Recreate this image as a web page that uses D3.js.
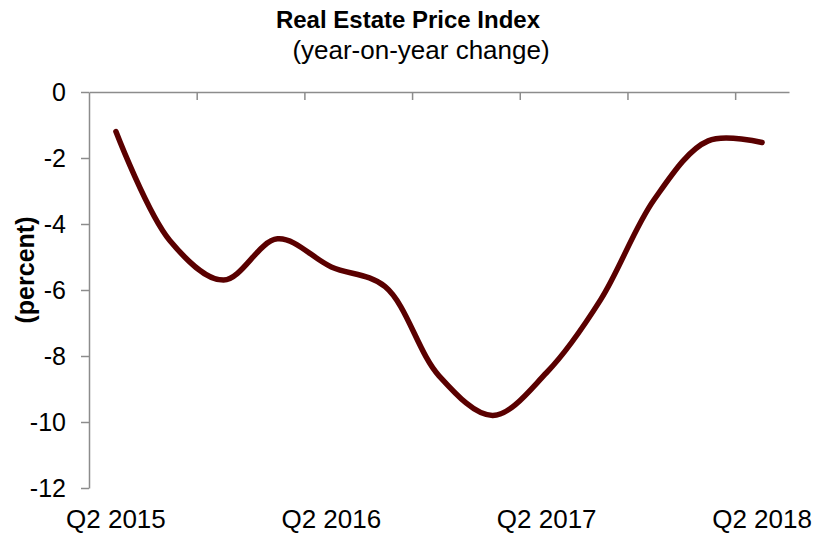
<!DOCTYPE html>
<html>
<head>
<meta charset="utf-8">
<script src="https://cdn.jsdelivr.net/npm/d3@7"></script>
<style>
  html, body { margin: 0; padding: 0; background: #ffffff; }
  svg { display: block; }
  text { font-family: "Liberation Sans", Arial, sans-serif; fill: #000; }
</style>
</head>
<body>
<svg id="chart" width="821" height="533"></svg>
<script>
// ---- data ----
const categories = ["Q2 2015","Q3 2015","Q4 2015","Q1 2016","Q2 2016","Q3 2016","Q4 2016",
                    "Q1 2017","Q2 2017","Q3 2017","Q4 2017","Q1 2018","Q2 2018"];
const values = [-1.2, -4.5, -5.7, -4.45, -5.3, -5.9, -8.6, -9.8, -8.5, -6.3, -3.25, -1.48, -1.53];
const xTickLabels = ["Q2 2015","Q2 2016","Q2 2017","Q2 2018"];
const yTicks = [0, -2, -4, -6, -8, -10, -12];
const titleText = "Real Estate Price Index";
const subtitleText = "(year-on-year change)";
const yAxisTitle = "(percent)";

// ---- layout ----
const svg = d3.select("#chart");
const plotLeft = 89, plotRight = 789, plotTop = 92, plotBottom = 488;
const axisColor = "#8c8c8c";
const lineColor = "#5a0000";

const x = d3.scaleBand().domain(categories).range([plotLeft, plotRight]).padding(0);
const xb = d3.scaleLinear().domain([0, categories.length]).range([plotLeft, plotRight]);
const y = d3.scaleLinear().domain([-12, 0]).range([plotBottom, plotTop]);

// title
svg.append("text").attr("x", 408).attr("y", 28).attr("text-anchor", "middle")
  .style("font-size", "24px").style("font-weight", "bold").text(titleText);
svg.append("text").attr("x", 421).attr("y", 59).attr("text-anchor", "middle")
  .style("font-size", "26px").text(subtitleText);

// y axis
const yAxis = svg.append("g").attr("transform", `translate(${plotLeft},0)`)
  .call(d3.axisLeft(y).tickValues(yTicks).tickSizeInner(8).tickSizeOuter(0).tickPadding(15)
    .tickFormat(d3.format("d")));
yAxis.select(".domain").attr("stroke", axisColor).attr("stroke-width", 1.5);
yAxis.selectAll(".tick line").attr("stroke", axisColor).attr("stroke-width", 1.5);
yAxis.selectAll(".tick text").style("font-size", "25px").style("font-family", "Liberation Sans, Arial, sans-serif")
  .text(d => d === 0 ? "0" : "-" + Math.abs(d));

// x axis along y = 0 (top), ticks every two quarters, pointing down
const xAxis = svg.append("g").attr("transform", `translate(0,${y(0)})`)
  .call(d3.axisBottom(xb).tickValues(d3.range(2, categories.length, 2)).tickSizeInner(8).tickSizeOuter(0)
    .tickFormat(""));
xAxis.select(".domain").attr("stroke", axisColor).attr("stroke-width", 1.5);
xAxis.selectAll(".tick line").attr("stroke", axisColor).attr("stroke-width", 1.5);

// x category labels at the bottom
svg.append("g").selectAll("text").data(xTickLabels).join("text")
  .attr("x", d => x(d) + x.bandwidth() / 2)
  .attr("y", 528)
  .attr("text-anchor", "middle")
  .style("font-size", "26px")
  .text(d => d);

// y axis title
svg.append("text")
  .attr("transform", "translate(34,270) rotate(-90)")
  .attr("text-anchor", "middle")
  .style("font-size", "25px").style("font-weight", "bold")
  .text(yAxisTitle);

// line
const line = d3.line()
  .x((d, i) => x(categories[i]) + x.bandwidth() / 2)
  .y(d => y(d))
  .curve(d3.curveCatmullRom.alpha(0.5));
svg.append("path").datum(values)
  .attr("d", line)
  .attr("fill", "none")
  .attr("stroke", lineColor)
  .attr("stroke-width", 5.5)
  .attr("stroke-linecap", "round")
  .attr("stroke-linejoin", "round");
</script>
</body>
</html>
